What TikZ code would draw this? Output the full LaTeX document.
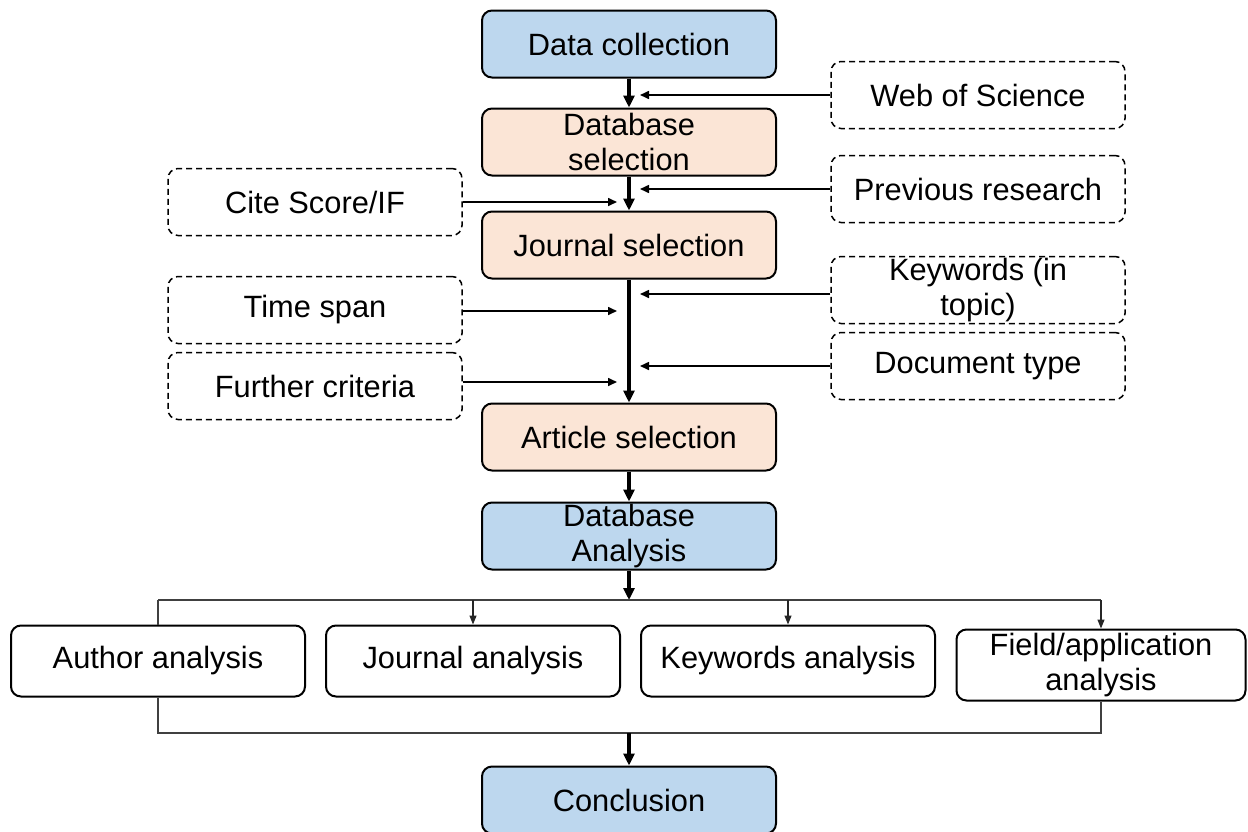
\documentclass[tikz,border=0pt]{standalone}
\usepackage{fontspec}
\setmainfont{Liberation Sans}
\usetikzlibrary{arrows.meta}
\definecolor{stageblue}{HTML}{BDD7EE}
\definecolor{stagepeach}{HTML}{FBE5D6}
\begin{document}
\begin{tikzpicture}[x=0.5pt,y=-0.5pt,
  every node/.style={font=\fontsize{15.4pt}{17.6pt}\selectfont, align=center, inner sep=0pt},
  stage/.style={draw, line width=1pt, rounded corners=5pt, minimum width=147pt, minimum height=33.5pt},
  bluestage/.style={stage, fill=stageblue},
  peachstage/.style={stage, fill=stagepeach},
  criterion/.style={draw, line width=0.75pt, dash pattern=on 3pt off 2pt, rounded corners=5pt, minimum width=147pt, minimum height=33.5pt},
  analysis/.style={draw, line width=1pt, rounded corners=5pt, minimum width=147pt, minimum height=35.5pt},
  mainflow/.style={line width=1.6pt, -{Triangle[length=6pt,width=5.5pt]}},
  feed/.style={line width=0.8pt, -{Triangle[length=4.5pt,width=4pt]}},
  bus/.style={line width=0.6pt, black!75},
  busarrow/.style={line width=0.6pt, black!85, -{Triangle[length=4.5pt,width=3.5pt]}}
]
\useasboundingbox (0,0) rectangle (1248,831);

% main sequence of stages
\node[bluestage]  (collect)  at (629,44)  {Data collection};
\node[peachstage] (dbsel)    at (629,142) {Database\\selection};
\node[peachstage] (jsel)     at (629,245) {Journal selection};
\node[peachstage] (asel)     at (629,437) {Article selection};
\node[bluestage]  (dbana)    at (629,536) {Database\\Analysis};
\node[bluestage]  (concl)    at (629,800) {Conclusion};

% selection criteria
\node[criterion] (wos)     at (978,95)  {Web of Science};
\node[criterion] (prev)    at (978,189) {Previous research};
\node[criterion] (cite)    at (315,202) {Cite Score/IF};
\node[criterion] (kw)      at (978,290) {Keywords (in\\topic)};
\node[criterion] (tspan)   at (315,310) {Time span};
\node[criterion] (doctype) at (978,366) {Document type};
\node[criterion] (further) at (315,386) {Further criteria};

% analyses
\node[analysis] (author)  at (158,661)  {Author analysis};
\node[analysis] (journal) at (473,661)  {Journal analysis};
\node[analysis] (kwana)   at (788,661)  {Keywords analysis};
\node[analysis, minimum width=144.5pt] (field) at (1101,665) {Field/application\\analysis};

% main flow
\draw[mainflow] (collect) -- (dbsel);
\draw[mainflow] (dbsel) -- (jsel);
\draw[mainflow] (jsel) -- (asel);
\draw[mainflow] (asel) -- (dbana);

% criteria feeding the flow
\coordinate (wosT)  at (640,95);
\coordinate (prevT) at (640,189);
\coordinate (citeT) at (617,202);
\coordinate (kwT)   at (640,294);
\coordinate (tsT)   at (617,311);
\coordinate (docT)  at (640,366);
\coordinate (furT)  at (617,382);
\draw[feed] (wos.west) -- (wosT);
\draw[feed] (prev.west) -- (prevT);
\draw[feed] (cite.east) -- (citeT);
\draw[feed] (kw.west |- kwT) -- (kwT);
\draw[feed] (tspan.east |- tsT) -- (tsT);
\draw[feed] (doctype.west) -- (docT);
\draw[feed] (further.east |- furT) -- (furT);

% distribution to the analyses
\coordinate (split) at (629,600);
\coordinate (busL) at (author.north |- split);
\coordinate (busR) at (field.north |- split);
\draw[mainflow] (dbana) -- (split);
\draw[bus] (busL) -- (busR);
\draw[bus] (busL) -- (author.north);
\draw[busarrow] (journal.north |- split) -- (journal.north);
\draw[busarrow] (kwana.north |- split) -- (kwana.north);
\draw[busarrow] (busR) -- (field.north);

% collection of the analyses
\coordinate (join) at (629,733);
\draw[bus] (author.south) -- (author.south |- join) -- (field.south |- join) -- (field.south);
\draw[mainflow] (join) -- (concl);
\end{tikzpicture}
\end{document}
